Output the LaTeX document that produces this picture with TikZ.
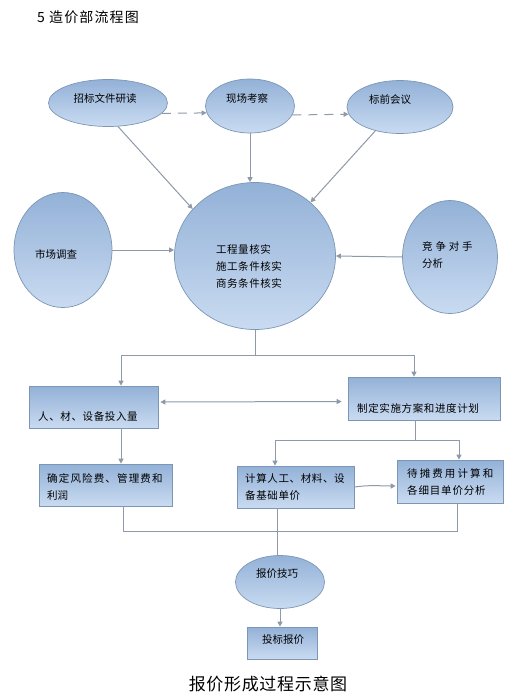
\documentclass[tikz,border=0pt]{standalone}
\usepackage{fontspec}
\setmainfont{Noto Sans CJK SC}
\usetikzlibrary{shapes.geometric,arrows.meta}
\definecolor{fillTop}{HTML}{93B1D7}
\definecolor{fillBot}{HTML}{C9DBF1}
\definecolor{edgeC}{HTML}{7C96B6}
\definecolor{lineC}{HTML}{8E9AA8}
\tikzset{
  ell/.style={ellipse, draw=edgeC, line width=0.7pt, top color=fillTop, bottom color=fillBot, inner sep=0pt},
  boxs/.style={rectangle, draw=edgeC, line width=0.7pt, top color=fillTop, bottom color=fillBot, inner sep=0pt},
  conn/.style={draw=lineC, line width=1pt},
  arr/.style={conn, -{Triangle[length=5pt,width=5pt]}},
  darr/.style={conn, {Triangle[length=5pt,width=5pt]}-{Triangle[length=5pt,width=5pt]}},
  dasharr/.style={arr, dash pattern=on 9pt off 7pt},
  txt/.style={font=\fontsize{10.5}{17}\selectfont, inner sep=0pt, align=left},
  ctxt/.style={font=\fontsize{10.5}{17}\selectfont, inner sep=0pt, align=center},
}
\newcommand{\spaced}[2]{{\addfontfeature{LetterSpace=#1}#2}}
\begin{document}
\begin{tikzpicture}[x=1pt,y=-1pt]
\useasboundingbox[fill=white] (0,0) rectangle (524,699);

% title and caption
\node[anchor=west, font=\fontsize{14}{16}\selectfont, inner sep=0pt] (title) at (37,17) {\spaced{8}{5 造价部流程图}};
\node[font=\fontsize{17}{19}\selectfont, inner sep=0pt] (caption) at (268,684) {\spaced{4}{报价形成过程示意图}};

% ellipses
\node[ell, minimum width=119pt, minimum height=47pt] (e1) at (108,103) {};
\node[ell, minimum width=89pt, minimum height=54pt] (e2) at (250,106) {};
\node[ell, minimum width=106pt, minimum height=53pt] (e3) at (400,107) {};
\node[ell, minimum width=161pt, minimum height=147pt] (c) at (255,256) {};
\node[ell, minimum width=98pt, minimum height=115pt] (m) at (63,250) {};
\node[ell, minimum width=95pt, minimum height=113pt] (j) at (450,257) {};
\node[ell, minimum width=89pt, minimum height=53pt] (q) at (280,582) {};

% boxes
\node[boxs, minimum width=129pt, minimum height=42pt] (b1) at (93.5,407) {};
\node[boxs, minimum width=152pt, minimum height=43pt] (b2) at (424,398.5) {};
\node[boxs, minimum width=133pt, minimum height=42pt] (b3) at (105.5,485) {};
\node[boxs, minimum width=117pt, minimum height=42pt] (b4) at (295.5,487) {};
\node[boxs, minimum width=106pt, minimum height=43pt] (b5) at (450,481.5) {};
\node[boxs, minimum width=70pt, minimum height=32pt] (b6) at (282,643) {};

% texts
\node[ctxt] (t1) at (105,98) {招标文件研读};
\node[ctxt] (t2) at (247,99) {现场考察};
\node[ctxt] (t3) at (390,100) {标前会议};
\node[txt, anchor=west] (tc) at (216,266) {\spaced{5}{工程量核实}\\\spaced{5}{施工条件核实}\\\spaced{5}{商务条件核实}};
\node[ctxt] (tm) at (56,254) {市场调查};
\node[txt, anchor=west] (tj) at (422,255) {\spaced{27}{竞争对手}\\分析};
\node[txt, anchor=west] (tb1) at (38,417) {\spaced{6}{人、材、设备投入量}};
\node[txt, anchor=west] (tb2) at (357,408) {\spaced{6}{制定实施方案和进度计划}};
\node[txt, anchor=west] (tb3) at (47,486.5) {\spaced{11}{确定风险费、管理费和}\\利润};
\node[txt, anchor=west] (tb4) at (245,487.5) {\spaced{6}{计算人工、材料、设}\\\spaced{6}{备基础单价}};
\node[txt, anchor=west] (tb5) at (407,482.5) {\spaced{20}{待摊费用计算和}\\\spaced{8}{各细目单价分析}};
\node[ctxt] (tq) at (277,574) {报价技巧};
\node[ctxt] (tb6) at (283,640) {投标报价};

% helper coordinates
\coordinate (s1) at (121,355);
\coordinate (s2) at (414,355);
\coordinate (s3) at (415,440);
\coordinate (s4) at (275,440);
\coordinate (s5) at (459,440);
\coordinate (s6) at (123,531);
\coordinate (s7) at (457,531);
\coordinate (s8) at (277,531);

% connectors top
\draw[dasharr] (e1.-11) -- (e2.189);
\draw[dasharr] (e2.-12) -- (e3.188);
\draw[arr] (e1.-67) -- (c.143);
\draw[arr] (e2.south) -- (e2.south |- c.north);
\draw[arr] (e3.224) -- (c.44);
\draw[arr] (m.east) -- (c.west |- m.east);
\draw[arr] (j.west) -- (c.east);

% split from centre
\draw[conn] (c.south) -- (c.south |- s1);
\draw[conn] (s1) -- (s2);
\draw[arr] (s1) -- (s1 |- b1.north);
\draw[arr] (s2) -- (s2 |- b2.north);
\draw[darr, shorten <=2pt, shorten >=6pt] ([yshift=5pt]b1.east) -- ([yshift=-3pt]b2.west);

% left column
\draw[arr] (s1 |- b1.south) -- (s1 |- b3.north);

% right split
\draw[conn] (s3 |- b2.south) -- (s3);
\draw[conn] (s4) -- (s5);
\draw[arr] (s4) -- (s4 |- b4.north);
\draw[arr] (s5) -- (s5 |- b5.north);
\draw[arr, shorten >=1pt] (b4.east) to[out=8,in=180] ([yshift=-4.5pt]b5.west);

% merge at bottom
\draw[conn] (s6 |- b3.south) -- (s6) -- (s7) -- (s7 |- b5.south);
\draw[conn] (s8 |- b4.south) -- (s8 |- q.north);
\draw[arr] (q.south) -- (q.south |- b6.north);
\end{tikzpicture}
\end{document}
